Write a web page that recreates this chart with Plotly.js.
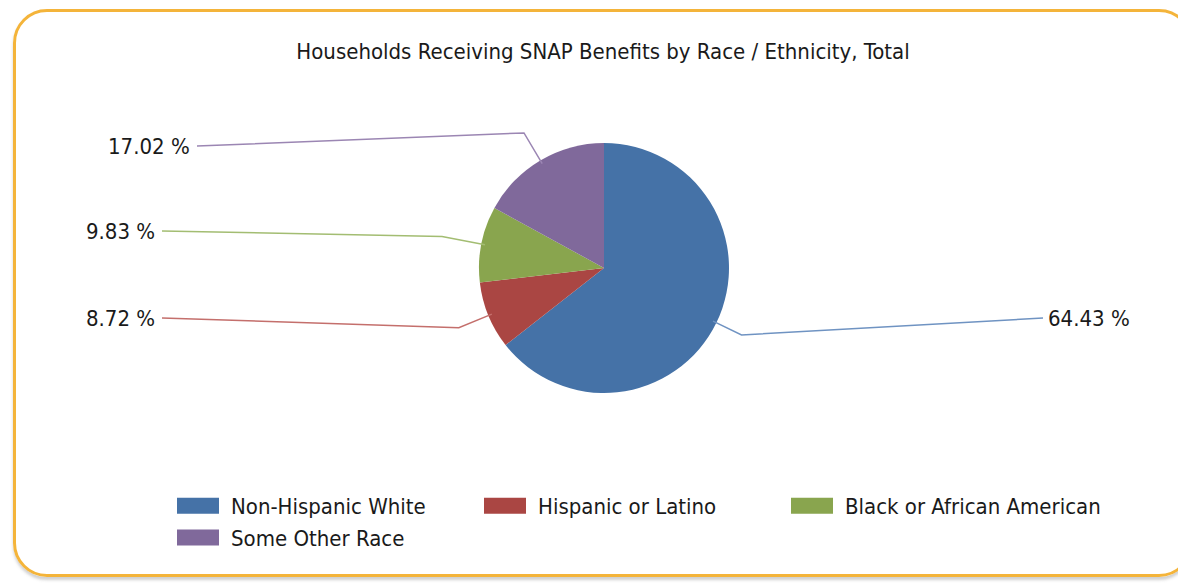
<!DOCTYPE html>
<html>
<head>
<meta charset="utf-8">
<script src="https://cdn.plot.ly/plotly-3.0.1.min.js"></script>
<style>
  html, body { margin: 0; padding: 0; background: #ffffff; overflow: hidden; }
  #frame {
    position: absolute; left: 13px; top: 9px; width: 1180px; height: 568px;
    border: 3px solid #F4B43A; border-radius: 34px; box-sizing: border-box;
    box-shadow: 0 3px 3px rgba(120,120,120,0.35);
  }
  #chart { position: absolute; left: 0; top: 0; width: 1178px; height: 584px; }
</style>
</head>
<body>
<div id="frame"></div>
<div id="chart"></div>
<script>
// ---- data ----
const categories = ["Non-Hispanic White", "Hispanic or Latino", "Black or African American", "Some Other Race"];
const percents = [64.43, 8.72, 9.83, 17.02];
const pctLabels = ["64.43 %", "8.72 %", "9.83 %", "17.02 %"];

// ---- styles / layout ----
const FONT = "DejaVu Sans Condensed, Liberation Sans Narrow, Arial Narrow, sans-serif";
const colors = ["#4572A7", "#AA4643", "#89A54E", "#80699B"];
const lineColors = ["#6f93c2", "#c46f6c", "#a3bd72", "#9b86b3"];
const W = 1178, H = 584;
const cx = 604, cy = 268, R = 125;          // pie centre / radius in pixels
// label anchor (end of leader line next to the text), pixels
const labelEnd = [[1043, 318], [162, 318], [162, 231], [197, 146]];
const labelSide = ["right", "left", "left", "left"];
const elbowExt = [28, 32, 40, 32];

const px = x => x / W;
const py = y => 1 - y / H;

const total = percents.reduce((a, b) => a + b, 0);
const shapes = [];
const annotations = [];
let acc = 0;
percents.forEach((v, i) => {
  const mid = (acc + v / 2) / total * 2 * Math.PI; // clockwise from 12 o'clock
  acc += v;
  const sx = Math.sin(mid), sy = -Math.cos(mid);
  const tip = [cx + R * 0.97 * sx, cy + R * 0.97 * sy];
  const elb = [cx + (R + elbowExt[i]) * sx, cy + (R + elbowExt[i]) * sy];
  const le = labelEnd[i];
  shapes.push({
    type: "path", xref: "paper", yref: "paper",
    path: `M ${px(le[0])} ${py(le[1])} L ${px(elb[0])} ${py(elb[1])} L ${px(tip[0])} ${py(tip[1])}`,
    line: { color: lineColors[i], width: 1.5 }
  });
  annotations.push({
    xref: "paper", yref: "paper",
    x: px(labelSide[i] === "left" ? le[0] - 5 : le[0] + 3), y: py(le[1]),
    xanchor: labelSide[i] === "left" ? "right" : "left", yanchor: "middle",
    text: pctLabels[i], showarrow: false,
    font: { family: FONT, size: 22, color: "#1a1a1a" }
  });
});

const trace = {
  type: "pie",
  labels: categories,
  values: percents,
  sort: false,
  direction: "clockwise",
  rotation: 0,
  textinfo: "none",
  hoverinfo: "label+percent",
  marker: { colors: colors, line: { width: 0 } },
  domain: { x: [px(cx - R), px(cx + R)], y: [py(cy + R), py(cy - R)] }
};

const layout = {
  width: W, height: H,
  margin: { l: 0, r: 0, t: 0, b: 0 },
  paper_bgcolor: "rgba(0,0,0,0)",
  plot_bgcolor: "rgba(0,0,0,0)",
  font: { family: FONT, color: "#1a1a1a" },
  title: {
    text: "Households Receiving SNAP Benefits by Race / Ethnicity, Total",
    x: px(603), xanchor: "center", y: py(51), yanchor: "middle",
    font: { size: 22, color: "#1a1a1a" }
  },
  showlegend: true,
  legend: {
    orientation: "h", x: px(168), xanchor: "left", y: py(485), yanchor: "top",
    font: { size: 22, color: "#1a1a1a" },
    entrywidth: 262, entrywidthmode: "pixels",
    itemwidth: 30, tracegroupgap: 0, bgcolor: "rgba(0,0,0,0)"
  },
  shapes: shapes,
  annotations: annotations
};

Plotly.newPlot("chart", [trace], layout, { displayModeBar: false, staticPlot: true }).then(gd => {
  // widen legend swatches into rectangles like the original, and move text past them
  gd.querySelectorAll(".legend .legendpoints path").forEach(p => {
    p.setAttribute("d", "M-11,-8H31V8H-11Z");
  });
  gd.querySelectorAll(".legend text.legendtext").forEach(t => {
    const x0 = parseFloat(t.getAttribute("x") || "0");
    t.setAttribute("x", x0 + 23);
  });
  gd.querySelectorAll(".legend [clip-path]").forEach(el => el.removeAttribute("clip-path"));
});
</script>
</body>
</html>
